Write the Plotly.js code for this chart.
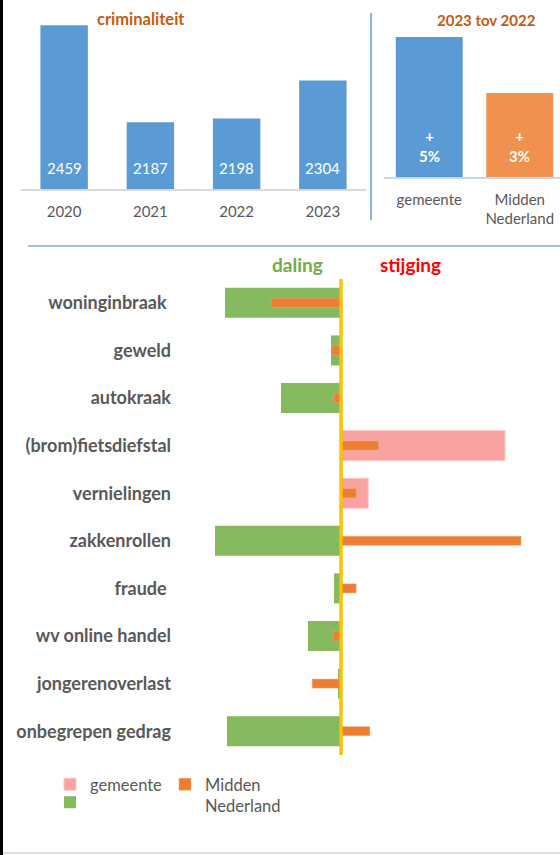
<!DOCTYPE html>
<html>
<head>
<meta charset="utf-8">
<script src="https://cdn.plot.ly/plotly-3.0.1.min.js"></script>
<style>
  html, body { margin: 0; padding: 0; background: #ffffff; }
  #chart { width: 560px; height: 855px; }
</style>
</head>
<body>
<div id="chart"></div>
<script>
// ---------- data ----------
const years = ['2020', '2021', '2022', '2023'];
const totals = [2459, 2187, 2198, 2304];

const compareCats = ['gemeente', 'Midden<br>Nederland'];
const compareVals = [5, 3];

const crimeCats = ['woninginbraak\u00a0', 'geweld', 'autokraak', '(brom)fietsdiefstal', 'vernielingen',
                   'zakkenrollen', 'fraude\u00a0', 'wv online handel', 'jongerenoverlast', 'onbegrepen gedrag'];
const gemeenteChange = [-29, -2.5, -15, 41, 6.8, -31.5, -1.75, -8.25, -0.75, -28.5];
const middenChange   = [-17.5, -2.3, -1.75, 9.4, 3.8, 45, 3.8, -2, -7.2, 7.2];

// ---------- helpers (pixel -> paper) ----------
const W = 560, H = 855;
const X = p => p / W;
const Y = p => 1 - p / H;
const FONT = 'Lato, "Open Sans", sans-serif';
const GRAY = '#595959';

const gemeenteUp = gemeenteChange.map(v => v > 0 ? v : null);
const gemeenteDown = gemeenteChange.map(v => v < 0 ? v : null);

const traces = [
  { type: 'bar', x: years, y: totals, xaxis: 'x', yaxis: 'y', width: 0.55,
    marker: { color: '#5B9BD5' }, showlegend: false, hoverinfo: 'skip' },
  { type: 'bar', x: compareCats, y: compareVals, xaxis: 'x2', yaxis: 'y2', width: 0.74,
    marker: { color: ['#5B9BD5', '#F0914F'] }, showlegend: false, hoverinfo: 'skip' },
  { type: 'bar', orientation: 'h', y: crimeCats, x: gemeenteUp, xaxis: 'x3', yaxis: 'y3', width: 0.63,
    name: 'gemeente', legend: 'legend',
    marker: { color: '#F8A3A1', line: { color: '#FBC6C5', width: 1 } } },
  { type: 'bar', orientation: 'h', y: crimeCats, x: gemeenteDown, xaxis: 'x3', yaxis: 'y3', width: 0.63,
    name: ' ', legend: 'legend3',
    marker: { color: '#84BA5D' } },
  { type: 'bar', orientation: 'h', y: crimeCats, x: middenChange, xaxis: 'x3', yaxis: 'y3', width: 0.19,
    name: 'Midden<br>Nederland', legend: 'legend2',
    marker: { color: '#ED7D31', line: { color: '#F4A77A', width: 0.5 } } }
];

const annotations = [];
// category index positions (numeric) so annotations do not disturb the category axis
years.forEach((yr, i) => annotations.push({
  xref: 'x', yref: 'y', x: i, y: 2000, yshift: 21, yanchor: 'middle',
  text: String(totals[i]), showarrow: false, font: { family: FONT, size: 15, color: '#ffffff' }
}));
compareCats.forEach((c, i) => annotations.push({
  xref: 'x2', yref: 'y2', x: i, y: 0, yshift: 31, yanchor: 'middle',
  text: '+<br>' + compareVals[i] + '%', showarrow: false,
  font: { family: FONT, size: 15, color: '#ffffff', weight: 'bold' }
}));
annotations.push(
  { xref: 'paper', yref: 'paper', x: X(141), y: Y(19), text: 'criminaliteit', showarrow: false,
    xanchor: 'center', yanchor: 'middle', font: { family: FONT, size: 16.5, color: '#C55A11', weight: 'bold' } },
  { xref: 'paper', yref: 'paper', x: X(486), y: Y(20), text: '2023 tov 2022', showarrow: false,
    xanchor: 'center', yanchor: 'middle', font: { family: FONT, size: 15, color: '#C55A11', weight: 'bold' } },
  { xref: 'paper', yref: 'paper', x: X(297), y: Y(264), text: 'daling', showarrow: false,
    xanchor: 'center', yanchor: 'middle', font: { family: FONT, size: 19, color: '#70AD47', weight: 'bold' } },
  { xref: 'paper', yref: 'paper', x: X(411), y: Y(264), text: 'stijging', showarrow: false,
    xanchor: 'center', yanchor: 'middle', font: { family: FONT, size: 19, color: '#FF0000', weight: 'bold' } }
);

const shapes = [
  // left black border
  { type: 'rect', xref: 'paper', yref: 'paper', x0: 0, x1: X(3), y0: 0, y1: 1,
    fillcolor: '#000000', line: { width: 0 }, layer: 'above' },
  // bottom light border
  { type: 'line', xref: 'paper', yref: 'paper', x0: X(3), x1: 1, y0: Y(853), y1: Y(853),
    line: { color: '#D5E3F0', width: 2 } },
  // vertical separator top
  { type: 'line', xref: 'paper', yref: 'paper', x0: X(371), x1: X(371), y0: Y(13), y1: Y(220),
    line: { color: '#5B9BD5', width: 1.5 } },
  // horizontal separator
  { type: 'line', xref: 'paper', yref: 'paper', x0: X(28), x1: 1, y0: Y(246), y1: Y(246),
    line: { color: '#7FB1DF', width: 1.5 } },
  // zero line (yellow)
  { type: 'line', xref: 'x3', yref: 'paper', x0: 0, x1: 0, y0: Y(755), y1: Y(279),
    line: { color: '#FFC000', width: 3.5 }, layer: 'above' }
];

const legendFont = { family: FONT, size: 16.5, color: GRAY };
const layout = {
  width: W, height: H,
  margin: { l: 0, r: 0, t: 0, b: 0 },
  paper_bgcolor: '#ffffff', plot_bgcolor: 'rgba(0,0,0,0)',
  font: { family: FONT, color: GRAY },
  barmode: 'overlay',
  showlegend: true,
  xaxis: { anchor: 'y', domain: [X(21), X(366)], type: 'category', range: [-0.5, 3.5],
    showgrid: false, zeroline: false,
    showline: true, linecolor: '#D9D9D9', linewidth: 2, ticks: '', ticklabelstandoff: 8,
    tickfont: { family: FONT, size: 15, color: GRAY }, fixedrange: true },
  yaxis: { anchor: 'x', domain: [Y(189), Y(10.7)], range: [2000, 2500], visible: false, fixedrange: true },
  xaxis2: { anchor: 'y2', domain: [X(384), 1], type: 'category', range: [-0.5, 1.445], showgrid: false, zeroline: false,
    showline: true, linecolor: '#C7D8EA', linewidth: 1.5, ticks: '', ticklabelstandoff: 8,
    tickfont: { family: FONT, size: 15, color: GRAY }, fixedrange: true },
  yaxis2: { anchor: 'x2', domain: [Y(177), Y(9)], range: [0, 6], visible: false, fixedrange: true },
  xaxis3: { anchor: 'y3', domain: [X(181), X(557)], range: [-40, 54], visible: false, fixedrange: true },
  yaxis3: { anchor: 'x3', domain: [Y(755), Y(279)], type: 'category', range: [9.5, -0.5], showgrid: false,
    zeroline: false, showline: false, ticks: '', ticklabelstandoff: 9,
    tickfont: { family: FONT, size: 18, color: GRAY, weight: 'bold' }, fixedrange: true },
  legend: { x: X(50), y: Y(767), xanchor: 'left', yanchor: 'top', orientation: 'v',
    bgcolor: 'rgba(0,0,0,0)', font: legendFont },
  legend3: { x: X(50), y: Y(785), xanchor: 'left', yanchor: 'top', orientation: 'v',
    bgcolor: 'rgba(0,0,0,0)', font: legendFont },
  legend2: { x: X(165), y: Y(767), xanchor: 'left', yanchor: 'top', orientation: 'v',
    valign: 'top', bgcolor: 'rgba(0,0,0,0)', font: legendFont },
  annotations: annotations,
  shapes: shapes
};

Plotly.newPlot('chart', traces, layout, { displayModeBar: false, staticPlot: true });
</script>
</body>
</html>
